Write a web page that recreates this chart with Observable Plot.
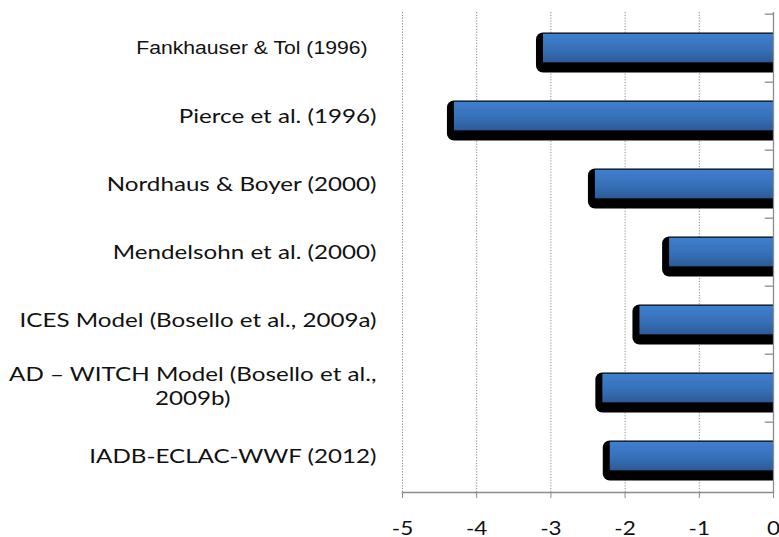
<!DOCTYPE html>
<html>
<head>
<meta charset="utf-8">
<script src="https://cdn.jsdelivr.net/npm/d3@7"></script>
<script src="https://cdn.jsdelivr.net/npm/@observablehq/plot@0.6"></script>
<style>
  html, body { margin: 0; padding: 0; background: #fff; }
  #chart svg { display: block; }
</style>
</head>
<body>
<div id="chart"></div>
<script>
const studies = [
  "Fankhauser & Tol (1996)",
  "Pierce et al. (1996)",
  "Nordhaus & Boyer (2000)",
  "Mendelsohn et al. (2000)",
  "ICES Model (Bosello et al., 2009a)",
  "AD – WITCH Model (Bosello et al., 2009b)",
  "IADB-ECLAC-WWF (2012)"
];
const impacts = [-3.1, -4.3, -2.4, -1.4, -1.8, -2.3, -2.2];
const xTicks = [-5, -4, -3, -2, -1, 0];
const gridTicks = [-5, -4, -3, -2, -1];

const data = studies.map((s, i) => ({study: s, value: impacts[i]}));

const wrapped = "AD – WITCH Model (Bosello et al., 2009b)";
const labelFormat = s => s === wrapped ? "AD – WITCH Model (Bosello et al.,\n2009b)" : s;

const calibriLike = "Lato, 'Open Sans', sans-serif";
const plainLabels = studies.filter(s => s !== studies[0] && s !== wrapped);

const chart = Plot.plot({
  width: 779,
  height: 537,
  marginLeft: 402,
  marginRight: 6,
  marginTop: 12,
  marginBottom: 45,
  style: {background: "#fff"},
  x: {domain: [-5, 0]},
  y: {domain: studies, padding: 0},
  marks: [
    Plot.gridX(gridTicks, {stroke: "#8c8c8c", strokeOpacity: 1, strokeDasharray: "1.2,1.6", strokeWidth: 1}),
    // shadow
    Plot.barX(data, {x: "value", y: "study", fill: "#000", insetLeft: -7, insetRight: -12,
      insetTop: 18.5, insetBottom: 9.5, rx: 7, clip: true}),
    // bar body
    Plot.barX(data, {x: "value", y: "study", fill: "url(#barGrad)", insetTop: 19.7, insetBottom: 19.7}),
    // right axis line and inward ticks at category boundaries
    Plot.ruleX([0], {stroke: "#8c8c8c", strokeWidth: 1.3}),
    Plot.ruleY(studies, {y: d => d, x1: -0.11, x2: 0, dy: -34.36, stroke: "#8c8c8c", strokeWidth: 1.3}),
    // bottom axis
    Plot.frame({anchor: "bottom", stroke: "#8c8c8c", strokeWidth: 1.3}),
    Plot.axisX(xTicks, {tickSize: 6, tickPadding: 23, fontSize: 18.5, fontFamily: calibriLike,
      stroke: "#8c8c8c", fill: "#111", label: null, tickFormat: d => d === 0 ? "0" : "-" + Math.abs(d)}),
    // category labels
    Plot.axisY(plainLabels, {anchor: "left", tickSize: 0, tickPadding: 26, fontSize: 19.5,
      fontFamily: calibriLike, fill: "#111", label: null}),
    Plot.axisY([studies[0]], {anchor: "left", tickSize: 0, tickPadding: 35, fontSize: 17.5,
      fontFamily: "'Liberation Sans', Arial, sans-serif", fill: "#111", label: null}),
    Plot.axisY([wrapped], {anchor: "left", tickSize: 0, tickPadding: 26, fontSize: 19.5, dy: -3,
      fontFamily: calibriLike, fill: "#111", label: null, tickFormat: labelFormat, lineHeight: 1.22})
  ]
});

const svg = d3.select(chart);
const defs = svg.insert("defs", ":first-child");
const grad = defs.append("linearGradient").attr("id", "barGrad")
  .attr("x1", 0).attr("y1", 0).attr("x2", 0).attr("y2", 1);
grad.append("stop").attr("offset", "0%").attr("stop-color", "#3e7fcf");
grad.append("stop").attr("offset", "55%").attr("stop-color", "#3770b8");
grad.append("stop").attr("offset", "100%").attr("stop-color", "#2c5b97");

document.getElementById("chart").appendChild(chart);

// The reference's labels are set in a wide face: stretch them horizontally about their anchor.
svg.selectAll('g[aria-label="y-axis tick label"] text').each(function() {
  const txt = this.textContent;
  const sx = txt.startsWith("Fankhauser") ? 1.21 : 1.24;
  const t = this.getAttribute("transform") || "";
  const tspans = this.querySelectorAll("tspan");
  if (tspans.length > 1) {
    // centre the wrapped lines on each other, keeping the block right-aligned
    const w = tspans[0].getComputedTextLength();
    this.setAttribute("text-anchor", "middle");
    this.setAttribute("transform", t + ` translate(${-w * sx / 2},0) scale(${sx},1)`);
  } else {
    this.setAttribute("transform", t + ` scale(${sx},1)`);
  }
});
svg.selectAll('g[aria-label="x-axis tick label"] text').each(function() {
  const t = this.getAttribute("transform") || "";
  this.setAttribute("transform", t + " scale(1.22,1)");
});
</script>
</body>
</html>
